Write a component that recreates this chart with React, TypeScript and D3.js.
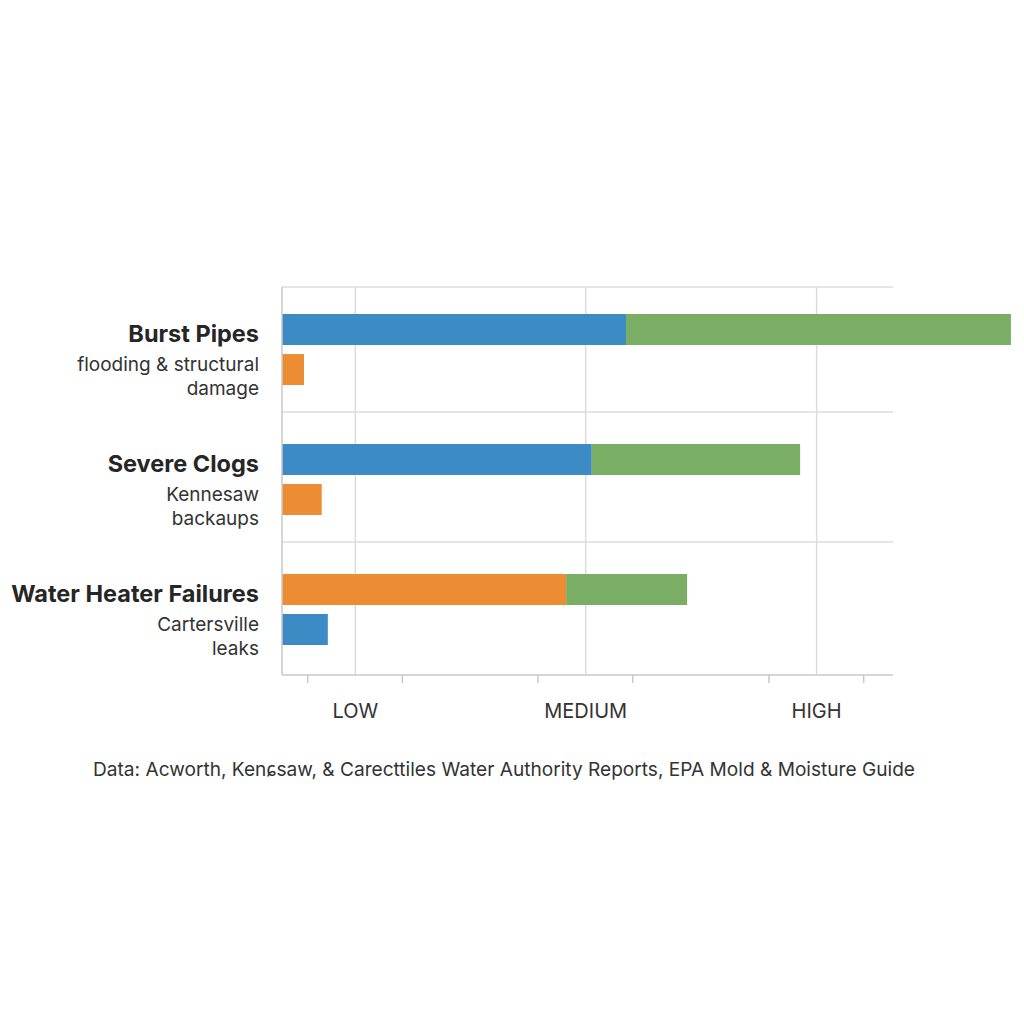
import React from "react";
import * as d3 from "d3";

const categories = ["Burst Pipes", "Severe Clogs", "Water Heater Failures"];
const subtitles = [
  ["flooding & structural", "damage"],
  ["Kennesaw", "backaups"],
  ["Cartersville", "leaks"],
];
// series key of the first (stacked) bar and of the small second bar
const primarySeries = ["blue", "blue", "orange"];
const secondarySeries = ["orange", "orange", "blue"];
const primaryValues = [56.3, 50.7, 46.5];
const extensionEnds = [119.3, 84.8, 66.3];
const secondaryValues = [3.6, 6.5, 7.5];

const levelLabels = ["LOW", "MEDIUM", "HIGH"];
const levelValues = [12, 49.7, 87.5];
const tickValues = [4.2, 19.7, 41.9, 57.4, 79.7, 95.2];
const sourceText =
  "Data: Acworth, Kenɕsaw, & Carecttiles Water Authority Reports, EPA Mold & Moisture Guide";

const COLORS: Record<string, string> = {
  blue: "#3c8bc5",
  orange: "#ec8d33",
  green: "#7aae65",
};

export default function App() {
  const W = 1024;
  const H = 1024;
  const left = 282;
  const right = 893;
  const top = 287;
  const bottom = 675;

  const x = d3.scaleLinear().domain([0, 100]).range([left, right]);
  const y = d3.scaleBand<string>().domain(categories).range([top - 1, bottom + 1]);
  const barH = 31;
  const font = "Inter, Roboto, 'Noto Sans', sans-serif";

  return (
    <svg
      width={W}
      height={H}
      style={{ position: "absolute", left: 0, top: 0, background: "#fff" }}
      fontFamily={font}
    >
      <rect width={W} height={H} fill="#fff" />
      {/* grid */}
      <line x1={left} x2={right} y1={top} y2={top} stroke="#dcdcdc" strokeWidth={1.5} />
      {categories.slice(1).map((c) => (
        <line
          key={"sep" + c}
          x1={left}
          x2={right}
          y1={(y(c) as number) - 4}
          y2={(y(c) as number) - 4}
          stroke="#dcdcdc"
          strokeWidth={1.5}
        />
      ))}
      {levelValues.map((v, i) => (
        <line
          key={"g" + i}
          x1={x(v)}
          x2={x(v)}
          y1={top}
          y2={bottom}
          stroke="#dcdcdc"
          strokeWidth={1.5}
        />
      ))}
      {/* bars */}
      {categories.map((c, i) => {
        const y0 = y(c) as number;
        return (
          <g key={c}>
            <rect
              x={x(0)}
              y={y0 + 28}
              width={x(primaryValues[i]) - x(0)}
              height={barH}
              fill={COLORS[primarySeries[i]]}
            />
            <rect
              x={x(primaryValues[i])}
              y={y0 + 28}
              width={x(extensionEnds[i]) - x(primaryValues[i])}
              height={barH}
              fill={COLORS.green}
            />
            <rect
              x={x(0)}
              y={y0 + 68}
              width={x(secondaryValues[i]) - x(0)}
              height={barH}
              fill={COLORS[secondarySeries[i]]}
            />
            <text
              x={259}
              y={y0 + 55.5}
              textAnchor="end"
              fontSize={23.5}
              fontWeight={700}
              fill="#262626"
            >
              {c}
            </text>
            {subtitles[i].map((s, j) => (
              <text
                key={j}
                x={259}
                y={y0 + 85 + j * 23.5}
                textAnchor="end"
                fontSize={19}
                fill="#333"
              >
                {s}
              </text>
            ))}
          </g>
        );
      })}
      {/* axes */}
      <line x1={left} x2={left} y1={top} y2={bottom} stroke="#c8c8c8" strokeWidth={1.5} />
      <line x1={left} x2={right} y1={bottom} y2={bottom} stroke="#c8c8c8" strokeWidth={1.5} />
      {tickValues.map((v, i) => (
        <line
          key={"t" + i}
          x1={x(v)}
          x2={x(v)}
          y1={bottom}
          y2={bottom + 8}
          stroke="#c8c8c8"
          strokeWidth={1.5}
        />
      ))}
      {levelLabels.map((l, i) => (
        <text
          key={l}
          x={x(levelValues[i])}
          y={718}
          textAnchor="middle"
          fontSize={20}
          fill="#333"
        >
          {l}
        </text>
      ))}
      <text x={504} y={776} textAnchor="middle" fontSize={19.1} fill="#333">
        {sourceText}
      </text>
    </svg>
  );
}
